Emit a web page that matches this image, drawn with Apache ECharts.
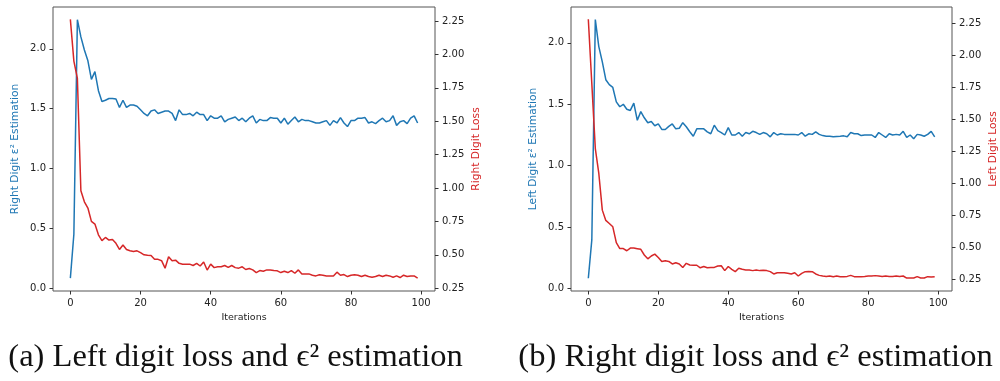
<!DOCTYPE html>
<html>
<head>
<meta charset="utf-8">
<script src="https://cdn.jsdelivr.net/npm/echarts@6/dist/echarts.min.js"></script>
<style>
html,body{margin:0;padding:0;background:#fff;}
#c{width:1000px;height:381px;}
</style>
</head>
<body>
<div id="c"></div>
<script>
// ---- data ----
const iterations = [];
for (let i = 0; i < 100; i++) iterations.push(i);

// Panel (a): Right digit estimation (blue, left axis) and loss (red, right axis)
const estA = [0.083,0.45,2.244,2.10,1.99,1.90,1.745,1.81,1.65,1.56,
1.57,1.585,1.585,1.58,1.51,1.57,1.51,1.53,1.53,1.52,
1.49,1.46,1.44,1.48,1.49,1.46,1.47,1.48,1.48,1.46,
1.40,1.49,1.45,1.45,1.46,1.44,1.47,1.45,1.45,1.40,
1.44,1.42,1.42,1.44,1.39,1.41,1.42,1.43,1.40,1.42,
1.39,1.42,1.44,1.38,1.41,1.40,1.40,1.425,1.42,1.42,
1.38,1.42,1.37,1.40,1.43,1.39,1.41,1.40,1.40,1.39,
1.38,1.38,1.39,1.40,1.36,1.40,1.38,1.425,1.38,1.35,
1.40,1.40,1.42,1.42,1.425,1.38,1.39,1.375,1.40,1.42,
1.39,1.40,1.44,1.36,1.39,1.40,1.375,1.42,1.44,1.38];
const lossA = [2.262,1.95,1.82,0.98,0.897,0.85,0.75,0.73,0.65,0.606,
0.63,0.61,0.615,0.586,0.54,0.573,0.54,0.53,0.524,0.53,
0.516,0.50,0.496,0.494,0.466,0.466,0.456,0.40,0.486,0.456,
0.46,0.436,0.43,0.43,0.43,0.42,0.436,0.416,0.446,0.386,
0.43,0.404,0.41,0.41,0.42,0.406,0.42,0.404,0.40,0.41,
0.39,0.397,0.387,0.367,0.382,0.377,0.387,0.387,0.382,0.38,
0.367,0.377,0.367,0.382,0.362,0.387,0.357,0.357,0.357,0.347,
0.342,0.35,0.347,0.342,0.342,0.342,0.37,0.347,0.352,0.337,
0.347,0.35,0.347,0.337,0.347,0.337,0.332,0.337,0.347,0.337,
0.347,0.342,0.332,0.342,0.33,0.347,0.337,0.342,0.342,0.325];

// Panel (b): Left digit estimation (blue, left axis) and loss (red, right axis)
const estB = [0.084,0.396,2.19,1.97,1.845,1.70,1.66,1.637,1.52,1.48,
1.50,1.46,1.45,1.51,1.37,1.44,1.39,1.35,1.36,1.325,
1.34,1.295,1.295,1.32,1.34,1.30,1.305,1.35,1.317,1.276,
1.24,1.30,1.30,1.30,1.276,1.26,1.33,1.285,1.27,1.25,
1.31,1.25,1.25,1.27,1.24,1.27,1.26,1.28,1.27,1.255,
1.27,1.26,1.235,1.27,1.25,1.26,1.255,1.255,1.255,1.255,
1.25,1.27,1.24,1.26,1.255,1.276,1.255,1.245,1.24,1.24,
1.235,1.238,1.24,1.243,1.235,1.27,1.26,1.26,1.245,1.25,
1.25,1.25,1.23,1.27,1.25,1.23,1.26,1.25,1.255,1.25,
1.28,1.23,1.25,1.22,1.255,1.25,1.24,1.255,1.28,1.235];
const lossB = [2.279,1.777,1.27,1.076,0.79,0.71,0.686,0.66,0.536,0.49,
0.49,0.473,0.494,0.494,0.489,0.484,0.44,0.41,0.432,0.447,
0.421,0.39,0.395,0.39,0.37,0.38,0.37,0.343,0.375,0.362,
0.36,0.36,0.34,0.35,0.34,0.343,0.343,0.354,0.356,0.318,
0.35,0.328,0.31,0.336,0.328,0.323,0.323,0.318,0.323,0.318,
0.32,0.318,0.31,0.292,0.302,0.302,0.302,0.297,0.292,0.302,
0.276,0.297,0.31,0.312,0.31,0.292,0.281,0.276,0.273,0.276,
0.271,0.276,0.271,0.271,0.273,0.281,0.271,0.271,0.271,0.273,
0.276,0.276,0.279,0.276,0.273,0.276,0.273,0.273,0.276,0.273,
0.276,0.26,0.26,0.26,0.271,0.26,0.26,0.271,0.268,0.271];

// tick labels
const xTicks = [0, 20, 40, 60, 80, 100];
const estTicks = [0.0, 0.5, 1.0, 1.5, 2.0];
const lossTicks = [0.25, 0.50, 0.75, 1.00, 1.25, 1.50, 1.75, 2.00, 2.25];

const names = {
  a: {est: 'Right Digit \u03b5\u00b2 Estimation', loss: 'Right Digit Loss', caption: '(a) Left digit loss and \u03f5\u00b2 estimation'},
  b: {est: 'Left Digit \u03b5\u00b2 Estimation', loss: 'Left Digit Loss', caption: '(b) Right digit loss and \u03f5\u00b2 estimation'}
};

// ---- chart ----
const BLUE = '#1f77b4', RED = '#d62728';
const FONT = 'DejaVu Sans';
const pair = a => iterations.map((x, i) => [x, a[i]]);

function xAx(gi) {
  return {
    type: 'value', gridIndex: gi, min: -4.95, max: 103.95,
    name: 'Iterations', nameLocation: 'middle', nameGap: 22,
    nameTextStyle: {fontFamily: FONT, fontSize: 9.5, color: '#222'},
    axisLine: {show: false, onZero: false}, splitLine: {show: false},
    axisTick: {show: true, length: 3.5, customValues: xTicks, lineStyle: {color: '#333', width: 1}},
    axisLabel: {customValues: xTicks, fontFamily: FONT, fontSize: 10, color: '#222', margin: 7}
  };
}
function yAx(gi, pos, min, max, ticks, dec, name, color, gap) {
  return {
    type: 'value', gridIndex: gi, position: pos, min: min, max: max,
    name: name, nameLocation: 'middle', nameRotate: 90, nameGap: gap,
    nameTextStyle: {fontFamily: FONT, fontSize: 10.7, color: color},
    axisLine: {show: false, onZero: false}, splitLine: {show: false},
    axisTick: {show: true, length: 3.5, customValues: ticks, lineStyle: {color: '#333', width: 1}},
    axisLabel: {customValues: ticks, fontFamily: FONT, fontSize: 10, color: '#222', margin: 7,
      formatter: v => Number(v).toFixed(dec)}
  };
}

const option = {
  animation: false,
  backgroundColor: '#fff',
  grid: [
    {left: 53, top: 7, width: 382, height: 284, show: true, borderColor: '#555', borderWidth: 1},
    {left: 571, top: 7, width: 382, height: 284, show: true, borderColor: '#555', borderWidth: 1}
  ],
  xAxis: [xAx(0), xAx(1)],
  yAxis: [
    yAx(0, 'left', -0.025, 2.35, estTicks, 1, names.a.est, BLUE, 32),
    yAx(0, 'right', 0.229, 2.355, lossTicks, 2, names.a.loss, RED, 36),
    yAx(1, 'left', -0.02, 2.292, estTicks, 1, names.b.est, BLUE, 32),
    yAx(1, 'right', 0.159, 2.375, lossTicks, 2, names.b.loss, RED, 36)
  ],
  series: [
    {type: 'line', xAxisIndex: 0, yAxisIndex: 0, data: pair(estA), showSymbol: false, lineStyle: {color: BLUE, width: 1.5}, itemStyle: {color: BLUE}},
    {type: 'line', xAxisIndex: 0, yAxisIndex: 1, data: pair(lossA), showSymbol: false, lineStyle: {color: RED, width: 1.5}, itemStyle: {color: RED}},
    {type: 'line', xAxisIndex: 1, yAxisIndex: 2, data: pair(estB), showSymbol: false, lineStyle: {color: BLUE, width: 1.5}, itemStyle: {color: BLUE}},
    {type: 'line', xAxisIndex: 1, yAxisIndex: 3, data: pair(lossB), showSymbol: false, lineStyle: {color: RED, width: 1.5}, itemStyle: {color: RED}}
  ],
  graphic: [
    {type: 'text', x: 235.5, y: 357, style: {text: names.a.caption, font: '32.5px "Liberation Serif"', fill: '#111', align: 'center', verticalAlign: 'middle'}},
    {type: 'text', x: 755.5, y: 357, style: {text: names.b.caption, font: '32.5px "Liberation Serif"', fill: '#111', align: 'center', verticalAlign: 'middle'}}
  ]
};

const chart = echarts.init(document.getElementById('c'), null, {renderer: 'canvas'});
chart.setOption(option);
</script>
</body>
</html>
